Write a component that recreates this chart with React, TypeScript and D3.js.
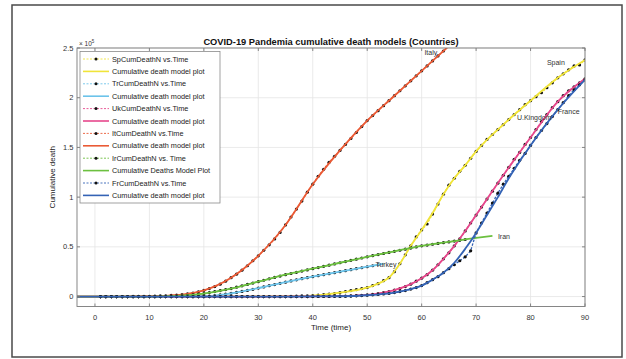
import React, { useEffect, useRef } from 'react';
import * as d3 from 'd3';

// values are in units of 10^5 deaths, one observation per day starting at day 1
const spainObs = [
 0, 0, 0, 0, 0, 0, 0, 0, 0, 0,
 0, 0, 0, 0, 0, 0, 0, 0, 0, 0,
 0, 0, 0, 0, 0, 0, 0, 0, 0, 0,
 0, 0, 0, 0, 0, 0.002, 0.004, 0.006, 0.008, 0.01,
 0.015, 0.02, 0.025, 0.03, 0.04, 0.05, 0.06, 0.07, 0.08, 0.09,
 0.11, 0.13, 0.16, 0.19, 0.25, 0.33, 0.42, 0.51, 0.6, 0.67,
 0.73, 0.83, 0.93, 1.03, 1.12, 1.19, 1.26, 1.32, 1.39, 1.46,
 1.52, 1.58, 1.63, 1.68, 1.73, 1.78, 1.83, 1.88, 1.93, 1.97,
 2.01, 2.05, 2.1, 2.15, 2.2, 2.24, 2.28, 2.32, 2.33, 2.38,
];
const turkeyObs = [
 0, 0, 0, 0, 0, 0, 0, 0, 0, 0,
 0, 0, 0, 0, 0, 0, 0, 0, 0, 0,
 0.005, 0.01, 0.017, 0.025, 0.033, 0.042, 0.052, 0.062, 0.073, 0.085,
 0.097, 0.109, 0.121, 0.133, 0.145, 0.157, 0.168, 0.18, 0.19, 0.2,
 0.21, 0.22, 0.23, 0.24, 0.25, 0.26, 0.27, 0.28, 0.29, 0.3,
 0.31, 0.32,
];
const ukObs = [
 0, 0, 0, 0, 0, 0, 0, 0, 0, 0,
 0, 0, 0, 0, 0, 0, 0, 0, 0, 0,
 0, 0, 0, 0, 0, 0, 0, 0, 0, 0,
 0, 0, 0, 0, 0, 0, 0, 0, 0, 0.001,
 0.001, 0.002, 0.002, 0.003, 0.004, 0.005, 0.007, 0.01, 0.013, 0.017,
 0.022, 0.03, 0.04, 0.05, 0.065, 0.08, 0.1, 0.125, 0.155, 0.185,
 0.22, 0.265, 0.32, 0.38, 0.44, 0.51, 0.58, 0.66, 0.74, 0.82,
 0.9, 0.98, 1.06, 1.14, 1.22, 1.3, 1.38, 1.45, 1.53, 1.6,
 1.68, 1.76, 1.83, 1.9, 1.96, 2.02, 2.07, 2.11, 2.15, 2.19,
];
const italyObs = [
 0, 0, 0, 0, 0, 0, 0.001, 0.001, 0.002, 0.003,
 0.004, 0.006, 0.008, 0.011, 0.015, 0.02, 0.027, 0.036, 0.048, 0.063,
 0.08, 0.1, 0.125, 0.155, 0.19, 0.225, 0.265, 0.31, 0.36, 0.41,
 0.465, 0.52, 0.58, 0.645, 0.72, 0.8, 0.88, 0.96, 1.05, 1.13,
 1.21, 1.28, 1.35, 1.41, 1.47, 1.53, 1.59, 1.65, 1.71, 1.77,
 1.82, 1.87, 1.92, 1.97, 2.02, 2.07, 2.12, 2.17, 2.22, 2.27,
 2.32, 2.37, 2.42, 2.47, 2.52,
];
const iranObs = [
 0, 0, 0, 0, 0, 0, 0, 0, 0, 0,
 0, 0, 0.002, 0.004, 0.006, 0.009, 0.013, 0.018, 0.024, 0.03,
 0.04, 0.05, 0.06, 0.07, 0.08, 0.094, 0.108, 0.122, 0.136, 0.15,
 0.164, 0.178, 0.192, 0.206, 0.22, 0.232, 0.244, 0.256, 0.268, 0.28,
 0.292, 0.304, 0.316, 0.328, 0.34, 0.352, 0.364, 0.376, 0.388, 0.4,
 0.411, 0.422, 0.433, 0.444, 0.455, 0.466, 0.477, 0.488, 0.499, 0.51,
 0.518, 0.526, 0.534, 0.542, 0.55, 0.558, 0.566, 0.574,
];
const franceObs = [
 0, 0, 0, 0, 0, 0, 0, 0, 0, 0,
 0, 0, 0, 0, 0, 0, 0, 0, 0, 0,
 0, 0, 0, 0, 0, 0, 0, 0, 0, 0,
 0, 0, 0, 0, 0, 0, 0, 0, 0, 0,
 0.001, 0.001, 0.001, 0.002, 0.002, 0.003, 0.005, 0.007, 0.01, 0.013,
 0.017, 0.021, 0.026, 0.032, 0.04, 0.05, 0.06, 0.075, 0.09, 0.11,
 0.14, 0.17, 0.2, 0.24, 0.28, 0.32, 0.36, 0.4, 0.46, 0.64,
 0.74, 0.84, 0.94, 1.04, 1.13, 1.21, 1.29, 1.37, 1.44, 1.52,
 1.6, 1.67, 1.74, 1.81, 1.88, 1.95, 2.02, 2.08, 2.13, 2.18,
];

// fitted model curves, sampled at [day, value]
const spainModel = [[-4, 0], [0, 0], [20, 0], [35, 0.003], [40, 0.01], [45, 0.04], [50, 0.09], [52, 0.13], [54, 0.19], [56, 0.33], [58, 0.51], [60, 0.67], [62, 0.84], [64, 1.03], [66, 1.19], [68, 1.32], [70, 1.46], [75, 1.73], [80, 1.97], [85, 2.2], [90, 2.38]];
const turkeyModel = [[-4, 0], [0, 0], [15, 0], [20, 0.003], [22, 0.01], [25, 0.033], [30, 0.085], [35, 0.145], [40, 0.2], [45, 0.25], [50, 0.3], [53, 0.33]];
const ukModel = [[-4, 0], [0, 0], [30, 0], [40, 0.002], [45, 0.005], [50, 0.017], [55, 0.065], [58, 0.125], [60, 0.185], [62, 0.265], [64, 0.38], [66, 0.51], [68, 0.66], [70, 0.82], [75, 1.22], [80, 1.6], [85, 1.96], [90, 2.19]];
const italyModel = [[-4, 0], [0, 0], [5, 0], [10, 0.003], [15, 0.015], [20, 0.063], [25, 0.19], [30, 0.41], [35, 0.72], [40, 1.13], [45, 1.47], [50, 1.77], [55, 2.02], [60, 2.27], [65, 2.52]];
const iranModel = [[-4, 0], [0, 0], [10, 0], [15, 0.006], [20, 0.03], [25, 0.08], [30, 0.15], [35, 0.22], [40, 0.28], [45, 0.34], [50, 0.4], [55, 0.455], [60, 0.51], [65, 0.55], [70, 0.59], [73, 0.61]];
const franceModel = [[-4, 0], [0, 0], [30, 0], [40, 0.001], [45, 0.003], [50, 0.013], [55, 0.04], [58, 0.075], [60, 0.11], [62, 0.17], [64, 0.24], [66, 0.34], [68, 0.48], [70, 0.64], [72, 0.82], [74, 1.0], [76, 1.19], [78, 1.36], [80, 1.52], [85, 1.88], [90, 2.18]];

const obsNames = ['SpCumDeathN vs.Time', 'TrCumDeathN vs.Time', 'UkCumDeathN vs.Time', 'ItCumDeathN vs.Time', 'IrCumDeathN vs. Time', 'FrCumDeathN vs.Time'];
const modelNames = ['Cumulative death model plot', 'Cumulative death model plot', 'Cumulative death model plot', 'Cumulative death model plot', 'Cumulative Deaths Model Plot', 'Cumulative death model plot'];
const countryLabels = ['Spain', 'Turkey', 'U.Kingdom', 'Italy', 'Iran', 'France'];
const colors = ['#f0e43a', '#6cc3ea', '#e6488c', '#ea5a35', '#6cc040', '#3463b5'];

const xTicks = [0, 10, 20, 30, 40, 50, 60, 70, 80, 90];
const yTicks = [0, 0.5, 1, 1.5, 2, 2.5];

const App: React.FC = () => {
 const svgRef = useRef<SVGSVGElement>(null);

 useEffect(() => {
 if (!svgRef.current) return;
 const svg = d3.select(svgRef.current);
 svg.selectAll('*').remove();

 const font = '"Liberation Sans", Arial, sans-serif';
 const left = 77, right = 585, top = 48, bottom = 306.5;
 const x = d3.scaleLinear().domain([-3.3, 90]).range([left, right]);
 const y = d3.scaleLinear().domain([-0.1, 2.5]).range([bottom, top]);

 // outer frame
 svg.append('rect').attr('x', 12).attr('y', 5).attr('width', 610).attr('height', 352)
 .attr('fill', '#fff').attr('stroke', '#4a4a4a').attr('stroke-width', 1.5);

 // grid
 const grid = svg.append('g').attr('stroke', '#e4e4e4').attr('stroke-width', 0.8);
 xTicks.forEach(t => grid.append('line').attr('x1', x(t)).attr('x2', x(t)).attr('y1', top).attr('y2', bottom));
 yTicks.forEach(t => grid.append('line').attr('x1', left).attr('x2', right).attr('y1', y(t)).attr('y2', y(t)));

 svg.append('defs').append('clipPath').attr('id', 'plotclip')
 .append('rect').attr('x', left).attr('y', top).attr('width', right - left).attr('height', bottom - top);

 const plot = svg.append('g').attr('clip-path', 'url(#plotclip)');
 const obsSets = [spainObs, turkeyObs, ukObs, italyObs, iranObs, franceObs];
 const models = [spainModel, turkeyModel, ukModel, italyModel, iranModel, franceModel];

 const line = d3.line<[number, number]>().x(d => x(d[0])).y(d => y(d[1]));
 const smooth = d3.line<number[]>().x(d => x(d[0])).y(d => y(d[1])).curve(d3.curveMonotoneX);

 obsSets.forEach((obs, i) => {
 const pts: [number, number][] = obs.map((v, k) => [k + 1, v]);
 plot.append('path').attr('d', line(pts)!).attr('fill', 'none')
 .attr('stroke', colors[i]).attr('stroke-width', 1.3).attr('stroke-dasharray', '2.5,1.5');
 plot.append('g').selectAll('circle').data(pts).enter().append('circle')
 .attr('cx', d => x(d[0])).attr('cy', d => y(d[1])).attr('r', 1.6).attr('fill', '#111');
 plot.append('path').attr('d', smooth(models[i])!).attr('fill', 'none')
 .attr('stroke', colors[i]).attr('stroke-width', 1.8);
 });

 // axes box and ticks
 const ax = svg.append('g').attr('stroke', '#7a7a7a').attr('stroke-width', 0.9);
 ax.append('rect').attr('x', left).attr('y', top).attr('width', right - left).attr('height', bottom - top).attr('fill', 'none');
 xTicks.forEach(t => {
 ax.append('line').attr('x1', x(t)).attr('x2', x(t)).attr('y1', bottom).attr('y2', bottom - 3);
 ax.append('line').attr('x1', x(t)).attr('x2', x(t)).attr('y1', top).attr('y2', top + 3);
 });
 yTicks.forEach(t => {
 ax.append('line').attr('x1', left).attr('x2', left + 3).attr('y1', y(t)).attr('y2', y(t));
 ax.append('line').attr('x1', right).attr('x2', right - 3).attr('y1', y(t)).attr('y2', y(t));
 });

 svg.append('g').selectAll('text').data(xTicks).enter().append('text')
 .attr('x', d => x(d)).attr('y', 319.5).attr('text-anchor', 'middle')
 .attr('font-family', font).attr('font-size', 7.5).attr('fill', '#333').text(d => d);
 svg.append('g').selectAll('text').data(yTicks).enter().append('text')
 .attr('x', left - 3.5).attr('y', d => y(d) + 2.6).attr('text-anchor', 'end')
 .attr('font-family', font).attr('font-size', 7.5).attr('fill', '#333').text(d => d);

 const expo = svg.append('text').attr('x', 79).attr('y', 46).attr('font-family', font)
 .attr('font-size', 6.5).attr('fill', '#333');
 expo.append('tspan').text('\u00d7 10');
 expo.append('tspan').attr('dy', -3).attr('font-size', 4.5).text('5');

 svg.append('text').attr('x', (left + right) / 2).attr('y', 45).attr('text-anchor', 'middle')
 .attr('font-family', font).attr('font-size', 9.3).attr('font-weight', 'bold').attr('fill', '#111')
 .text('COVID-19 Pandemia cumulative death models (Countries)');
 svg.append('text').attr('x', (left + right) / 2).attr('y', 330).attr('text-anchor', 'middle')
 .attr('font-family', font).attr('font-size', 8).attr('fill', '#222').text('Time (time)');
 svg.append('text').attr('transform', `translate(55,${(top + bottom) / 2}) rotate(-90)`)
 .attr('text-anchor', 'middle').attr('font-family', font).attr('font-size', 8).attr('fill', '#222')
 .text('Cumulative death');

 // country labels near curve ends
 const labelPos: [number, number][] = [[83, 2.35], [51.5, 0.32], [77.5, 1.8], [60.5, 2.45], [74, 0.6], [85, 1.86]];
 countryLabels.forEach((name, i) => {
 svg.append('text').attr('x', x(labelPos[i][0])).attr('y', y(labelPos[i][1]) + 2.5)
 .attr('font-family', font).attr('font-size', 7).attr('fill', '#333').text(name);
 });

 // legend
 const lg = svg.append('g');
 lg.append('rect').attr('x', 80).attr('y', 51.5).attr('width', 140).attr('height', 151.5)
 .attr('fill', '#fff').attr('stroke', '#8a8a8a').attr('stroke-width', 0.8);
 const entries: { name: string; color: string; obs: boolean }[] = [];
 obsNames.forEach((n, i) => {
 entries.push({ name: n, color: colors[i], obs: true });
 entries.push({ name: modelNames[i], color: colors[i], obs: false });
 });
 entries.forEach((e, k) => {
 const ey = 59 + k * 12.4;
 lg.append('line').attr('x1', 83).attr('x2', 109).attr('y1', ey).attr('y2', ey)
 .attr('stroke', e.color).attr('stroke-width', e.obs ? 0.9 : 1.6)
 .attr('stroke-dasharray', e.obs ? '2,1.5' : null);
 if (e.obs) lg.append('circle').attr('cx', 96).attr('cy', ey).attr('r', 1.5).attr('fill', '#111');
 lg.append('text').attr('x', 112).attr('y', ey + 2.5).attr('font-family', font)
 .attr('font-size', 7.3).attr('fill', '#222').text(e.name);
 });
 }, []);

 return <svg ref={svgRef} width={626} height={359} style={{ position: 'absolute', left: 0, top: 0 }} />;
};

export default App;
